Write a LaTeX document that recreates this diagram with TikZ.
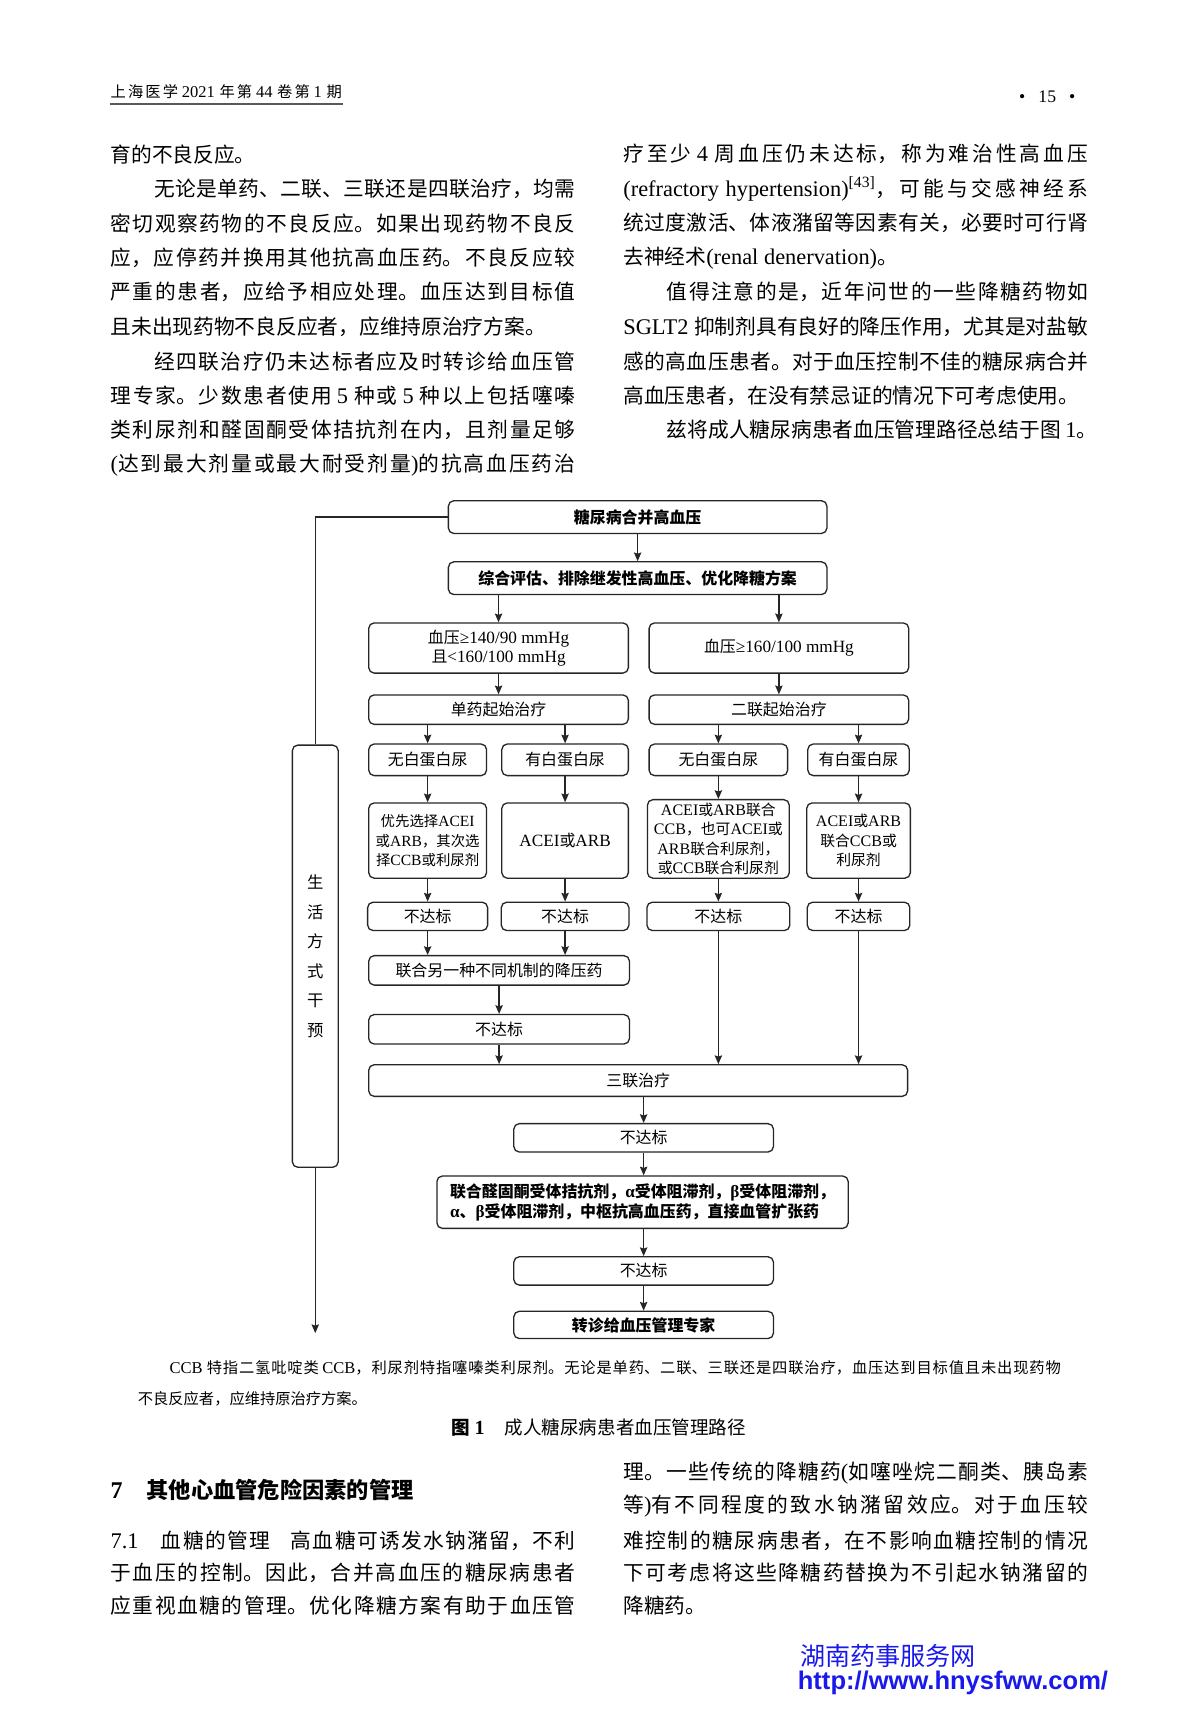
\documentclass[tikz,border=0pt]{standalone}
\usepackage{fontspec}
\setmainfont{Liberation Serif}[Scale=1.08]
\setsansfont{Liberation Sans}
\newfontfamily\cjk{Noto Sans CJK SC}
\usetikzlibrary{arrows.meta}

% switch to the CJK font for Han characters and back for Latin
\XeTeXinterchartokenstate=1
\newXeTeXintercharclass\hanclass
\newcount\hancnt
\newcommand\sethanrange[2]{\hancnt=#1\relax
  \loop\XeTeXcharclass\hancnt=\hanclass
  \ifnum\hancnt<#2\relax\advance\hancnt by 1\repeat}
\sethanrange{"3000}{"303F}
\sethanrange{"4E00}{"9FFF}
\sethanrange{"FF00}{"FFEF}
\XeTeXinterchartoks 0 \hanclass = {\cjk}
\XeTeXinterchartoks 4095 \hanclass = {\cjk}
\XeTeXinterchartoks \hanclass 0 = {\rmfamily}
\XeTeXinterchartoks 4095 0 = {\rmfamily}

% one justified line of text
\newlength\colw \setlength\colw{213pt}
\newcommand\jline[2][\colw]{\parbox{#1}{\XeTeXlinebreaklocale "zh"\XeTeXlinebreakskip=0pt plus 4pt\tolerance=10000\parfillskip=0pt\relax #2}}

\definecolor{wmblue}{RGB}{25,25,235}

\tikzset{
  flowbox/.style={draw=black!85, line width=0.6pt, rounded corners=2.5pt, inner sep=1pt, align=center, font=\fontsize{7.3}{9}\selectfont},
  heavy/.style={font=\fontsize{7.3}{9}\selectfont\bfseries},
  tight/.style={font=\fontsize{6.8}{9}\selectfont, inner xsep=0.3pt, inner ysep=0.5pt},
  wh/.style 2 args={minimum width=#1pt, minimum height=#2pt},
  arr/.style={-{Stealth[length=4pt,width=3.4pt,inset=0.6pt]}, draw=black!85, line width=0.55pt},
  bodytxt/.style={anchor=west, inner sep=0pt, font=\fontsize{9.5}{11}\selectfont}
}

\begin{document}
\begin{tikzpicture}[x=0.5pt,y=-0.5pt]
    \fill[white] (0,0) rectangle (1100,1573);
    \useasboundingbox (0,0) rectangle (1100,1573);

    % running head
    \node[bodytxt, font=\fontsize{7}{8}\selectfont] (head) at (101,84) {\jline[106pt]{上海医学 2021 年第 44 卷第 1 期}};
    \draw[line width=1pt, black!65] (101,95) -- (314,95);
    \node[inner sep=0pt, font=\fontsize{7.5}{8}\selectfont] (pgno) at (960,89) {•\hspace{6pt}15\hspace{6pt}•};

    % left column
    \node[bodytxt] (l1) at (101,141.5) {育的不良反应。};
    \node[bodytxt] (l2) at (101,173.1) {\jline{\hspace*{20pt}无论是单药、二联、三联还是四联治疗，均需}};
    \node[bodytxt] (l3) at (101,204.7) {\jline{密切观察药物的不良反应。如果出现药物不良反}};
    \node[bodytxt] (l4) at (101,236.3) {\jline{应，应停药并换用其他抗高血压药。不良反应较}};
    \node[bodytxt] (l5) at (101,267.9) {\jline{严重的患者，应给予相应处理。血压达到目标值}};
    \node[bodytxt] (l6) at (101,299.5) {且未出现药物不良反应者，应维持原治疗方案。};
    \node[bodytxt] (l7) at (101,331.1) {\jline{\hspace*{20pt}经四联治疗仍未达标者应及时转诊给血压管}};
    \node[bodytxt] (l8) at (101,362.7) {\jline{理专家。少数患者使用 5 种或 5 种以上包括噻嗪}};
    \node[bodytxt] (l9) at (101,394.3) {\jline{类利尿剂和醛固酮受体拮抗剂在内，且剂量足够}};
    \node[bodytxt] (l10) at (101,425.9) {\jline{(达到最大剂量或最大耐受剂量)的抗高血压药治}};

    % right column
    \node[bodytxt] (r1) at (571,141.5) {\jline{疗至少 4 周血压仍未达标，称为难治性高血压}};
    \node[bodytxt] (r2) at (571,173.1) {\jline{(refractory hypertension)\textsuperscript{[43]}，可能与交感神经系}};
    \node[bodytxt] (r3) at (571,204.7) {\jline{统过度激活、体液潴留等因素有关，必要时可行肾}};
    \node[bodytxt] (r4) at (571,236.3) {去神经术(renal denervation)。};
    \node[bodytxt] (r5) at (571,267.9) {\jline{\hspace*{20pt}值得注意的是，近年问世的一些降糖药物如}};
    \node[bodytxt] (r6) at (571,299.5) {\jline{SGLT2 抑制剂具有良好的降压作用，尤其是对盐敏}};
    \node[bodytxt] (r7) at (571,331.1) {\jline{感的高血压患者。对于血压控制不佳的糖尿病合并}};
    \node[bodytxt] (r8) at (571,362.7) {高血压患者，在没有禁忌证的情况下可考虑使用。};
    \node[bodytxt] (r9) at (571,394.3) {\hspace*{20pt}兹将成人糖尿病患者血压管理路径总结于图 1。};

    % flowchart
    \node[flowbox, heavy, wh={173.5}{15}] (dm) at (584.5,474) {糖尿病合并高血压};
    \node[flowbox, heavy, wh={173.5}{15}] (eval) at (584.5,530) {综合评估、排除继发性高血压、优化降糖方案};
    \node[flowbox, wh={119}{23}] (bpa) at (457,594) {血压≥140/90 mmHg\\且<160/100 mmHg};
    \node[flowbox, wh={119}{23}] (bpb) at (714,594) {血压≥160/100 mmHg};
    \node[flowbox, wh={119}{13.5}] (mono) at (457,650.5) {单药起始治疗};
    \node[flowbox, wh={119}{13.5}] (dual) at (714,650.5) {二联起始治疗};
    \node[flowbox, wh={54}{14.5}] (mno) at (392,696.5) {无白蛋白尿};
    \node[flowbox, wh={58}{14.5}] (myes) at (518,696.5) {有白蛋白尿};
    \node[flowbox, wh={63.5}{14.5}] (dno) at (658.5,696.5) {无白蛋白尿};
    \node[flowbox, wh={46.5}{14.5}] (dyes) at (787,696.5) {有白蛋白尿};
    \node[flowbox, tight, font=\fontsize{6.6}{9}\selectfont, wh={54}{34.5}] (ta) at (392,770.5) {优先选择ACEI\\或ARB，其次选\\择CCB或利尿剂};
    \node[flowbox, wh={58}{34.5}] (tb) at (518,770.5) {ACEI或ARB};
    \node[flowbox, tight, wh={65}{36}] (tc) at (658.5,769) {ACEI或ARB联合\\CCB，也可ACEI或\\ARB联合利尿剂，\\或CCB联合利尿剂};
    \node[flowbox, tight, wh={47.5}{34.5}] (td) at (787,770.5) {ACEI或ARB\\联合CCB或\\利尿剂};
    \node[flowbox, wh={55}{13}] (fa) at (392,840) {不达标};
    \node[flowbox, wh={58.5}{13}] (fb) at (518,840) {不达标};
    \node[flowbox, wh={65.5}{13}] (fc) at (658.5,840) {不达标};
    \node[flowbox, wh={47}{13}] (fd) at (787,840) {不达标};
    \node[flowbox, wh={119.5}{13.5}] (comb) at (457.5,889.5) {联合另一种不同机制的降压药};
    \node[flowbox, wh={119.5}{13.5}] (fail3) at (457.5,943.5) {不达标};
    \node[flowbox, wh={247}{14.5}] (triple) at (585,990.5) {三联治疗};
    \node[flowbox, wh={119}{13}] (fail4) at (590,1043) {不达标};
    \node[flowbox, heavy, align=left, wh={188.5}{24}] (addon) at (589,1102) {联合醛固酮受体拮抗剂，α受体阻滞剂，β受体阻滞剂，\\α、β受体阻滞剂，中枢抗高血压药，直接血管扩张药};
    \node[flowbox, wh={119}{13}] (fail5) at (590,1165) {不达标};
    \node[flowbox, heavy, wh={119}{12.5}] (refer) at (590,1214.5) {转诊给血压管理专家};
    \node[flowbox, wh={21}{193.5}, font=\fontsize{7.5}{13.5}\selectfont] (life) at (289,876.5) {生\\活\\方\\式\\干\\预};
    \coordinate (lifeend) at (289,1222);

    \draw[arr] (dm) -- (eval);
    \draw[arr] (eval.south -| bpa) -- (bpa);
    \draw[arr] (eval.south -| bpb) -- (bpb);
    \draw[arr] (bpa) -- (mono);
    \draw[arr] (bpb) -- (dual);
    \draw[arr] (mono.south -| mno) -- (mno);
    \draw[arr] (mono.south -| myes) -- (myes);
    \draw[arr] (dual.south -| dno) -- (dno);
    \draw[arr] (dual.south -| dyes) -- (dyes);
    \draw[arr] (mno) -- (ta);
    \draw[arr] (myes) -- (tb);
    \draw[arr] (dno) -- (tc);
    \draw[arr] (dyes) -- (td);
    \draw[arr] (ta) -- (fa);
    \draw[arr] (tb) -- (fb);
    \draw[arr] (tc) -- (fc);
    \draw[arr] (td) -- (fd);
    \draw[arr] (fa) -- (fa |- comb.north);
    \draw[arr] (fb) -- (fb |- comb.north);
    \draw[arr] (comb) -- (fail3);
    \draw[arr] (fail3) -- (fail3 |- triple.north);
    \draw[arr] (fc) -- (fc |- triple.north);
    \draw[arr] (fd) -- (fd |- triple.north);
    \draw[arr] (triple.south -| fail4) -- (fail4);
    \draw[arr] (fail4) -- (fail4 |- addon.north);
    \draw[arr] (addon.south -| fail5) -- (fail5);
    \draw[arr] (fail5) -- (refer);
    \draw[draw=black!85, line width=0.55pt] (dm.west) -| (life.north);
    \draw[arr] (life.south) -- (lifeend);

    % caption
    \node[bodytxt, font=\fontsize{7}{8}\selectfont] (cap1) at (155,1254) {\jline[408.5pt]{CCB 特指二氢吡啶类 CCB，利尿剂特指噻嗪类利尿剂。无论是单药、二联、三联还是四联治疗，血压达到目标值且未出现药物}};
    \node[bodytxt, font=\fontsize{7}{8}\selectfont] (cap2) at (126,1282) {不良反应者，应维持原治疗方案。};
    \node[inner sep=0pt, font=\fontsize{8.5}{9}\selectfont] (figt) at (549,1309) {{\bfseries 图 1}\quad 成人糖尿病患者血压管理路径};

    % section 7
    \node[bodytxt, font=\fontsize{10.2}{11}\selectfont\bfseries] (sec7) at (101,1366) {7\quad 其他心血管危险因素的管理};
    \node[bodytxt] (s1) at (101,1412) {\jline{7.1\hspace{1em}血糖的管理\hspace{1em}高血糖可诱发水钠潴留，不利}};
    \node[bodytxt] (s2) at (101,1442) {\jline{于血压的控制。因此，合并高血压的糖尿病患者}};
    \node[bodytxt] (s3) at (101,1472) {\jline{应重视血糖的管理。优化降糖方案有助于血压管}};
    \node[bodytxt] (t1) at (571,1350) {\jline{理。一些传统的降糖药(如噻唑烷二酮类、胰岛素}};
    \node[bodytxt] (t2) at (571,1381) {\jline{等)有不同程度的致水钠潴留效应。对于血压较}};
    \node[bodytxt] (t3) at (571,1412) {\jline{难控制的糖尿病患者，在不影响血糖控制的情况}};
    \node[bodytxt] (t4) at (571,1442) {\jline{下可考虑将这些降糖药替换为不引起水钠潴留的}};
    \node[bodytxt] (t5) at (571,1472) {降糖药。};

    % watermark
    \node[anchor=west, inner sep=0pt, text=wmblue, font=\fontsize{11.5}{12}\selectfont] (wm1) at (733,1518) {湖南药事服务网};
    \node[anchor=west, inner sep=0pt, text=wmblue, font={\XeTeXinterchartokenstate=0 \sffamily\bfseries\fontsize{11.7}{12}\selectfont}] (wm2) at (731,1543) {http://www.hnysfww.com/};
\end{tikzpicture}
\end{document}
